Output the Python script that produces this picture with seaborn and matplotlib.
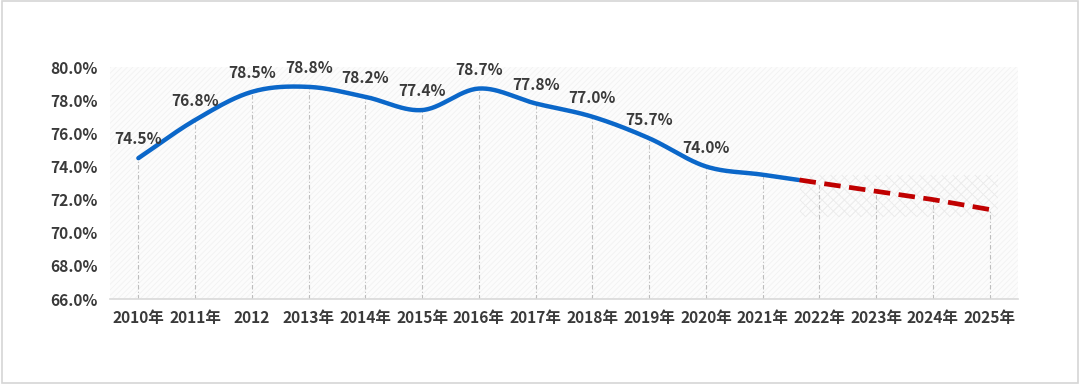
import matplotlib
matplotlib.use("Agg")
import matplotlib.pyplot as plt
from matplotlib.patches import Rectangle
from matplotlib.ticker import FuncFormatter
import numpy as np
import pandas as pd
import seaborn as sns

# 数据
years = ["2010年", "2011年", "2012", "2013年", "2014年", "2015年", "2016年", "2017年",
         "2018年", "2019年", "2020年", "2021年", "2022年", "2023年", "2024年", "2025年"]
actual = [74.5, 76.8, 78.5, 78.8, 78.2, 77.4, 78.7, 77.8, 77.0, 75.7, 74.0, 73.5, 73.0]
forecast = [73.0, 72.5, 72.0, 71.4]   # 2022-2025
n_labeled = 11                        # 2010-2020 有数据标签
split_at = 11.65                      # 蓝线结束、红色虚线开始的位置

sns.set_theme(style="white")
plt.rcParams['font.family'] = ['Noto Sans CJK SC', 'DejaVu Sans']
plt.rcParams['hatch.linewidth'] = 0.6

txt = "#3a3a3a"
blue = "#0b67c9"
red = "#c00000"
fs = 11.2

fig = plt.figure(figsize=(10.8, 3.92), dpi=100)
ax = fig.add_axes([110 / 1080, 1 - 299 / 392, 908 / 1080, 232 / 392])

# 外框
fig.patches.append(Rectangle((2 / 1080, 1 - 383 / 392), 1076 / 1080, 382 / 392,
                             transform=fig.transFigure, fill=False,
                             edgecolor="#d6d6d6", lw=1.2))

# 绘图区背景斜纹
ax.set_facecolor("#fcfcfc")
ax.add_patch(Rectangle((0, 0), 1, 1, transform=ax.transAxes, facecolor="none",
                       edgecolor="#f2f2f2", hatch="//////", lw=0, zorder=0))


# 平滑曲线 (Catmull-Rom)
def smooth(xs, ys, steps=30):
    xs = np.asarray(xs, float)
    ys = np.asarray(ys, float)
    px = np.concatenate([[2 * xs[0] - xs[1]], xs, [2 * xs[-1] - xs[-2]]])
    py = np.concatenate([[2 * ys[0] - ys[1]], ys, [2 * ys[-1] - ys[-2]]])
    ox, oy = [], []
    for i in range(1, len(px) - 2):
        t = np.linspace(0, 1, steps, endpoint=False)
        for p, out in ((px, ox), (py, oy)):
            p0, p1, p2, p3 = p[i - 1], p[i], p[i + 1], p[i + 2]
            out.extend(0.5 * (2 * p1 + (-p0 + p2) * t
                              + (2 * p0 - 5 * p1 + 4 * p2 - p3) * t ** 2
                              + (-p0 + 3 * p1 - 3 * p2 + p3) * t ** 3))
    ox.append(xs[-1])
    oy.append(ys[-1])
    return np.array(ox), np.array(oy)


sx, sy = smooth(range(len(actual)), actual)
keep = sx <= split_at
curve = pd.DataFrame({"x": sx[keep], "y": sy[keep]})
y_split = curve["y"].iloc[-1]

fc_x = [split_at] + list(range(12, 16))
fc_y = [y_split] + forecast

# 垂直点划线
drop_y = actual[:12] + forecast
ax.vlines(range(16), 66, drop_y, colors="#bdbdbd", linestyles=(0, (4, 2, 1, 2)),
          lw=0.8, zorder=1)

# 预测区域网格纹
ax.add_patch(Rectangle((split_at, 70.95), 15.15 - split_at, 2.55, facecolor="none",
                       edgecolor="#ebebeb", hatch="xxx", lw=0, zorder=0.5))

sns.lineplot(data=curve, x="x", y="y", ax=ax, color=blue, lw=3.2, zorder=3)
sns.lineplot(x=fc_x, y=fc_y, ax=ax, color=red, lw=3.4, zorder=3)
ax.lines[-1].set_dashes((3.5, 1.8))

for i in range(n_labeled):
    ax.annotate(f"{actual[i]:.1f}%", (i, actual[i]), xytext=(0, 13.5),
                textcoords="offset points", ha="center", va="center",
                fontsize=fs, fontweight="bold", color=txt)

ax.set_xlim(-0.5, 15.5)
ax.set_ylim(66, 80)
ax.set_xticks(range(16))
ax.set_xticklabels(years)
ax.set_yticks(np.arange(66, 80.1, 2))
ax.yaxis.set_major_formatter(FuncFormatter(lambda v, p: f"{v:.1f}%"))
ax.tick_params(axis="both", length=0, labelsize=fs, labelcolor=txt)
ax.tick_params(axis="x", pad=8)
ax.tick_params(axis="y", pad=9)
for lab in ax.get_xticklabels() + ax.get_yticklabels():
    lab.set_fontweight("bold")
ax.set_xlabel("")
ax.set_ylabel("")

for s in ["top", "left", "right"]:
    ax.spines[s].set_visible(False)
ax.spines["bottom"].set_color("#d9d9d9")
ax.spines["bottom"].set_linewidth(1.2)

fig.savefig("out.png", dpi=100, facecolor="white")
